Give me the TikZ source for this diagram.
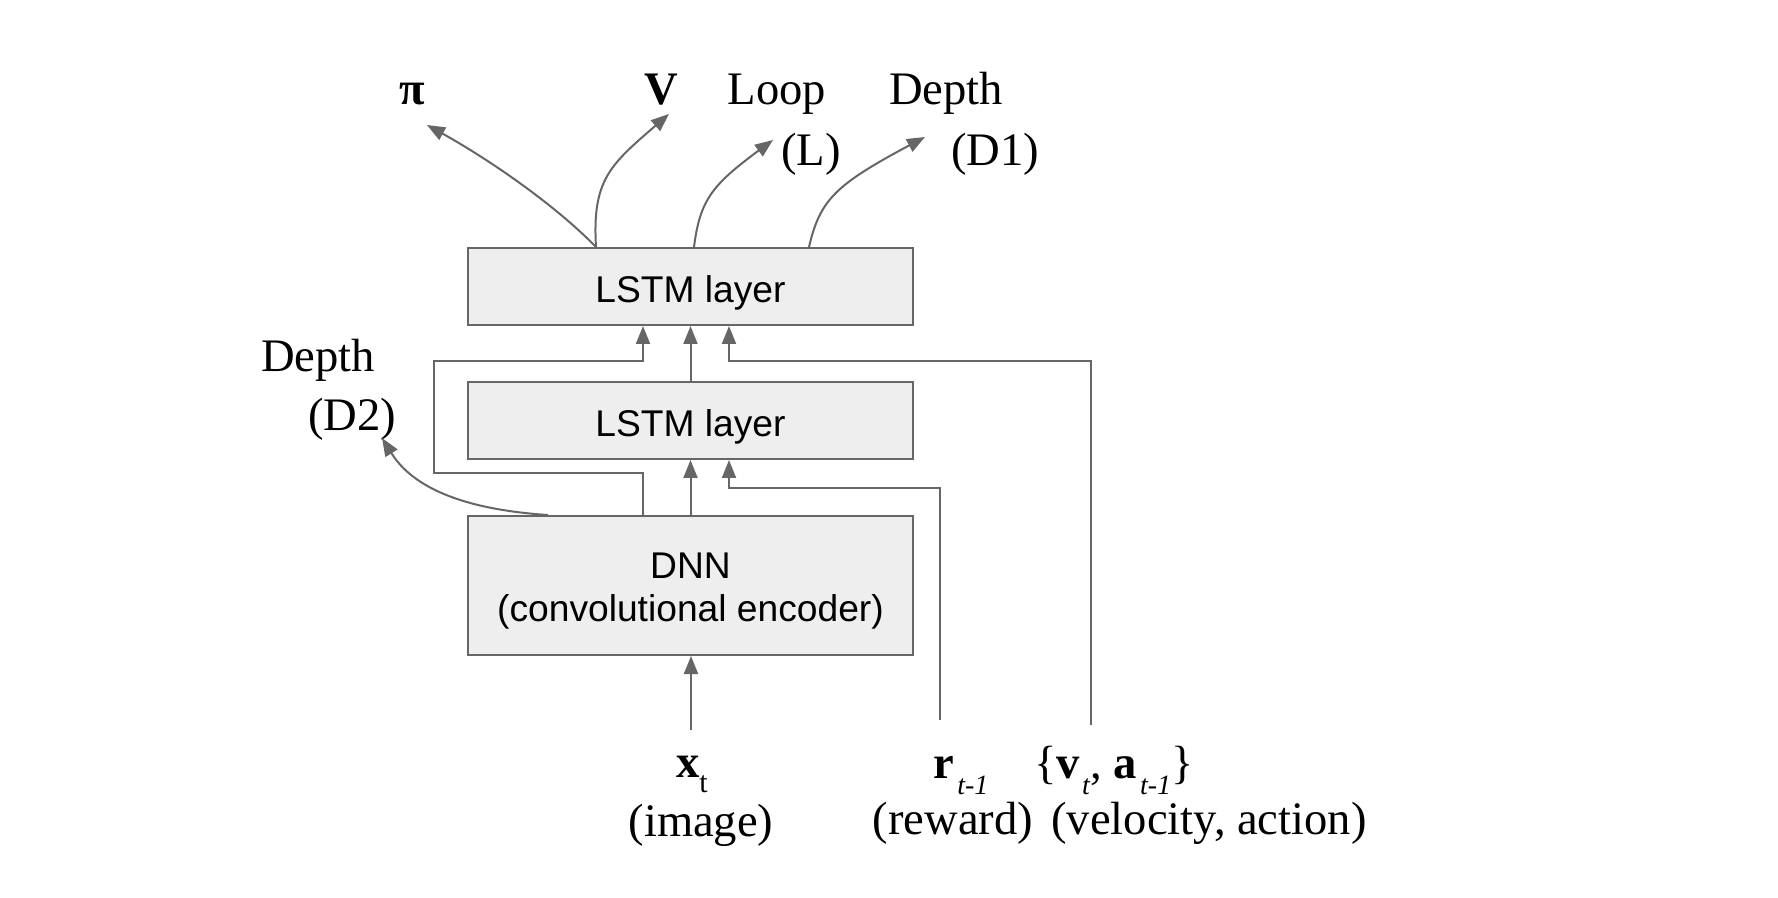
\documentclass[tikz,border=0pt]{standalone}
\usepackage{fontspec}
\setmainfont{Liberation Serif}
\setsansfont{Liberation Sans}
\usetikzlibrary{arrows.meta, positioning}
\definecolor{linegray}{HTML}{666666}
\definecolor{boxgray}{HTML}{EEEEEE}
\tikzstyle{layer} = [rectangle, minimum width=222.5pt, minimum height=38.5pt, text centered, draw=linegray, fill=boxgray, line width=1pt, font=\sffamily\fontsize{18.6pt}{21.5pt}\selectfont]
\tikzstyle{encoder} = [layer, minimum height=69.5pt]
\tikzstyle{label} = [inner sep=0pt, anchor=base, font=\fontsize{23.3pt}{27pt}\selectfont]
\tikzstyle{arrow} = [draw=linegray, line width=1pt, -{Triangle[length=9pt,width=7pt]}]
\newcommand{\lowsub}[2][-8pt]{\raisebox{#1}[\height][0pt]{\fontsize{14pt}{14pt}\selectfont #2}}
\newcommand{\boxtext}[1]{\raisebox{-3pt}[\height][\depth]{#1}}

\begin{document}
\begin{tikzpicture}[x=0.5pt, y=-0.5pt, node distance=27.5pt]
\useasboundingbox (0,0) rectangle (1778,898);
% layers
\node (dnn) [encoder] at (690.5,585.5) {\boxtext{\begin{tabular}{@{}c@{}}DNN\\(convolutional encoder)\end{tabular}}};
\node (lstm1) [layer, above=of dnn] {\boxtext{LSTM layer}};
\node (lstm2) [layer, above=of lstm1] {\boxtext{LSTM layer}};

% outputs
\node (pi) [label] at (412,105) {\textbf{π}};
\node (v) [label] at (661,105) {\textbf{V}};
\node (loop) [label] at (777,105) {Loop};
\node (loopl) [label] at (811,166) {(L)};
\node (depth1) [label] at (946,105) {Depth};
\node (depth1d) [label] at (995,166) {(D1)};
\node (depth2) [label] at (318,372) {Depth};
\node (depth2d) [label] at (352,431) {(D2)};

% inputs
\node (x) [label] at (692,777) {\textbf{x}\lowsub[-7.5pt]{\fontsize{15pt}{15pt}\selectfont t}};
\node (ximg) [label] at (701,836) {(image)};
\node (r) [label] at (961,778) {\textbf{r}\lowsub{\hspace{1.5pt}\textit{t-1}}};
\node (rrew) [label] at (953,834) {(reward)};
\node (va) [label] at (1114,778) {\{\textbf{v}\lowsub{\hspace{1pt}\textit{t}}, \textbf{a}\lowsub{\hspace{1.5pt}\textit{t-1}}\}};
\node (vact) [label] at (1209,834) {(velocity, action)};

\coordinate (xin) at (691,730);
\coordinate (rin) at (940,720);
\coordinate (vin) at (1091,725);
\coordinate (skipx) at (643,0);
\coordinate (sidex) at (729,0);
\coordinate (pitip) at (427,125);
\coordinate (vtip) at (669,114);
\coordinate (looptip) at (773,140);
\coordinate (d1tip) at (925,137);
\coordinate (d2tip) at (382,438);

\draw [arrow] (xin) -- (xin |- dnn.south);
\draw [arrow] (dnn.north) -- (lstm1.south);
\draw [arrow] (lstm1.north) -- (lstm2.south);
\draw [arrow] (dnn.north -| skipx) |- (434,473) |- (643,361) -- (lstm2.south -| skipx);
\draw [arrow] (rin) |- (729,488) -- (lstm1.south -| sidex);
\draw [arrow] (vin) |- (729,361) -- (lstm2.south -| sidex);

\draw [arrow] ([xshift=-47.25pt]lstm2.north) .. controls (555,205) and (490,160) .. (pitip);
\draw [arrow] ([xshift=-47.25pt]lstm2.north) .. controls (592,180) and (610,165) .. (vtip);
\draw [arrow] ([xshift=1.75pt]lstm2.north) .. controls (700,200) and (712,185) .. (looptip);
\draw [arrow] ([xshift=59.25pt]lstm2.north) .. controls (820,200) and (835,185) .. (d1tip);
\draw [arrow] ([xshift=-71.25pt]dnn.north) .. controls (440,508) and (405,475) .. (d2tip);

\end{tikzpicture}
\end{document}
